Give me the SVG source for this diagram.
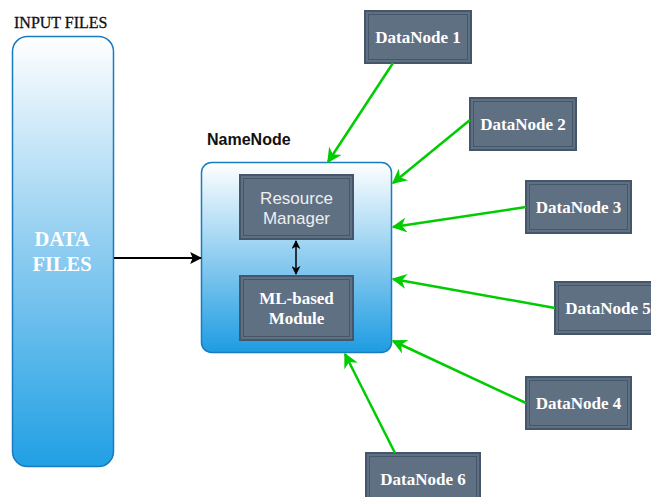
<svg xmlns="http://www.w3.org/2000/svg" width="651" height="497" viewBox="0 0 651 497">
<defs>
<linearGradient id="gBlue" x1="0" y1="0" x2="0" y2="1">
<stop offset="0" stop-color="#ffffff"/>
<stop offset="0.5" stop-color="#8fcdf0"/>
<stop offset="1" stop-color="#1d9ce2"/>
</linearGradient>
<linearGradient id="gBlueInput" x1="0" y1="0" x2="0" y2="1">
<stop offset="0" stop-color="#ffffff"/>
<stop offset="0.5" stop-color="#8dccf0"/>
<stop offset="1" stop-color="#20a0e4"/>
</linearGradient>
<marker id="arrG" viewBox="0 0 10 10" refX="9" refY="5" markerWidth="6" markerHeight="6" orient="auto" markerUnits="strokeWidth">
<path d="M0,0 L10,5 L0,10 L3,5 z" fill="#00cc00"/>
</marker>
<marker id="arrK" viewBox="0 0 10 10" refX="9" refY="5" markerWidth="6" markerHeight="6" orient="auto" markerUnits="strokeWidth">
<path d="M0,0 L10,5 L0,10 L2,5 z" fill="#000"/>
</marker>
<marker id="arrS" viewBox="0 0 10 10" refX="9" refY="5" markerWidth="6" markerHeight="6" orient="auto-start-reverse" markerUnits="strokeWidth">
<path d="M0,0 L10,5 L0,10 L3,5 z" fill="#000"/>
</marker>
</defs>
<style>
.dn rect.o{fill:#607083;stroke:#46566a;stroke-width:2}
.dn rect.i{fill:none;stroke:#46566a;stroke-width:1}
.dn text{font-family:"Liberation Serif",serif;font-weight:bold;font-size:17px;fill:#ffffff;text-anchor:middle}
.green{stroke:#00cc00;stroke-width:2.5;fill:none;marker-end:url(#arrG)}
</style>
<rect width="651" height="497" fill="#ffffff"/>

<g id="input-files">
<text x="14" y="28" font-family="Liberation Serif,serif" font-size="16" fill="#111" stroke="#111" stroke-width="0.3">INPUT FILES</text>
<rect x="12.5" y="36.5" width="101" height="430" rx="15" ry="15" fill="url(#gBlueInput)" stroke="#1a7cc0" stroke-width="1.5"/>
<text x="62" y="246" font-family="Liberation Serif,serif" font-weight="bold" font-size="20.5" fill="#ffffff" text-anchor="middle">DATA</text>
<text x="62" y="271" font-family="Liberation Serif,serif" font-weight="bold" font-size="20.5" fill="#ffffff" text-anchor="middle">FILES</text>
</g>

<g id="namenode">
<text x="207" y="145" font-family="Liberation Sans,Arial,sans-serif" font-weight="bold" font-size="16" fill="#111">NameNode</text>
<rect x="201.5" y="162.5" width="190" height="190" rx="10" ry="10" fill="url(#gBlue)" stroke="#1a7cc0" stroke-width="1.5"/>
</g>

<g id="resource-manager" class="dn">
<rect class="o" x="240" y="175" width="113" height="64"/>
<rect class="i" x="243.5" y="178.5" width="106" height="57"/>
<text x="296.5" y="204" style="font-family:'Liberation Sans',Arial,sans-serif;font-weight:normal;font-size:17px;fill:#eeeeee">Resource</text>
<text x="296.5" y="224" style="font-family:'Liberation Sans',Arial,sans-serif;font-weight:normal;font-size:17px;fill:#eeeeee">Manager</text>
</g>

<g id="ml-module" class="dn">
<rect class="o" x="240" y="276" width="113" height="64"/>
<rect class="i" x="243.5" y="279.5" width="106" height="57"/>
<text x="296.5" y="304">ML-based</text>
<text x="296.5" y="324">Module</text>
</g>

<g id="datanode1" class="dn">
<rect class="o" x="365" y="11" width="106" height="52"/>
<rect class="i" x="368.5" y="14.5" width="99" height="45"/>
<text x="418" y="43">DataNode 1</text>
</g>
<g id="datanode2" class="dn">
<rect class="o" x="470" y="98" width="106" height="52"/>
<rect class="i" x="473.5" y="101.5" width="99" height="45"/>
<text x="523" y="130">DataNode 2</text>
</g>
<g id="datanode3" class="dn">
<rect class="o" x="526" y="181" width="105" height="52"/>
<rect class="i" x="529.5" y="184.5" width="98" height="45"/>
<text x="578.5" y="213">DataNode 3</text>
</g>
<g id="datanode5" class="dn">
<rect class="o" x="555" y="282" width="106" height="52"/>
<rect class="i" x="558.5" y="285.5" width="99" height="45"/>
<text x="608" y="314">DataNode 5</text>
</g>
<g id="datanode4" class="dn">
<rect class="o" x="526" y="377" width="105" height="52"/>
<rect class="i" x="529.5" y="380.5" width="98" height="45"/>
<text x="578.5" y="409">DataNode 4</text>
</g>
<g id="datanode6" class="dn">
<rect class="o" x="366" y="453" width="114" height="52"/>
<rect class="i" x="369.5" y="456.5" width="107" height="45"/>
<text x="423" y="485">DataNode 6</text>
</g>

<g id="connectors">
<line x1="114" y1="258" x2="201" y2="258" stroke="#000" stroke-width="2" marker-end="url(#arrK)"/>
<line x1="296" y1="241" x2="296" y2="274" stroke="#000" stroke-width="1.5" marker-start="url(#arrS)" marker-end="url(#arrS)"/>
<line class="green" x1="393" y1="63" x2="328" y2="162"/>
<line class="green" x1="470" y1="120" x2="393" y2="183"/>
<line class="green" x1="526" y1="207" x2="393" y2="227"/>
<line class="green" x1="555" y1="308" x2="393" y2="279"/>
<line class="green" x1="526" y1="403" x2="393" y2="341"/>
<line class="green" x1="395" y1="453" x2="345" y2="354"/>
</g>
</svg>
